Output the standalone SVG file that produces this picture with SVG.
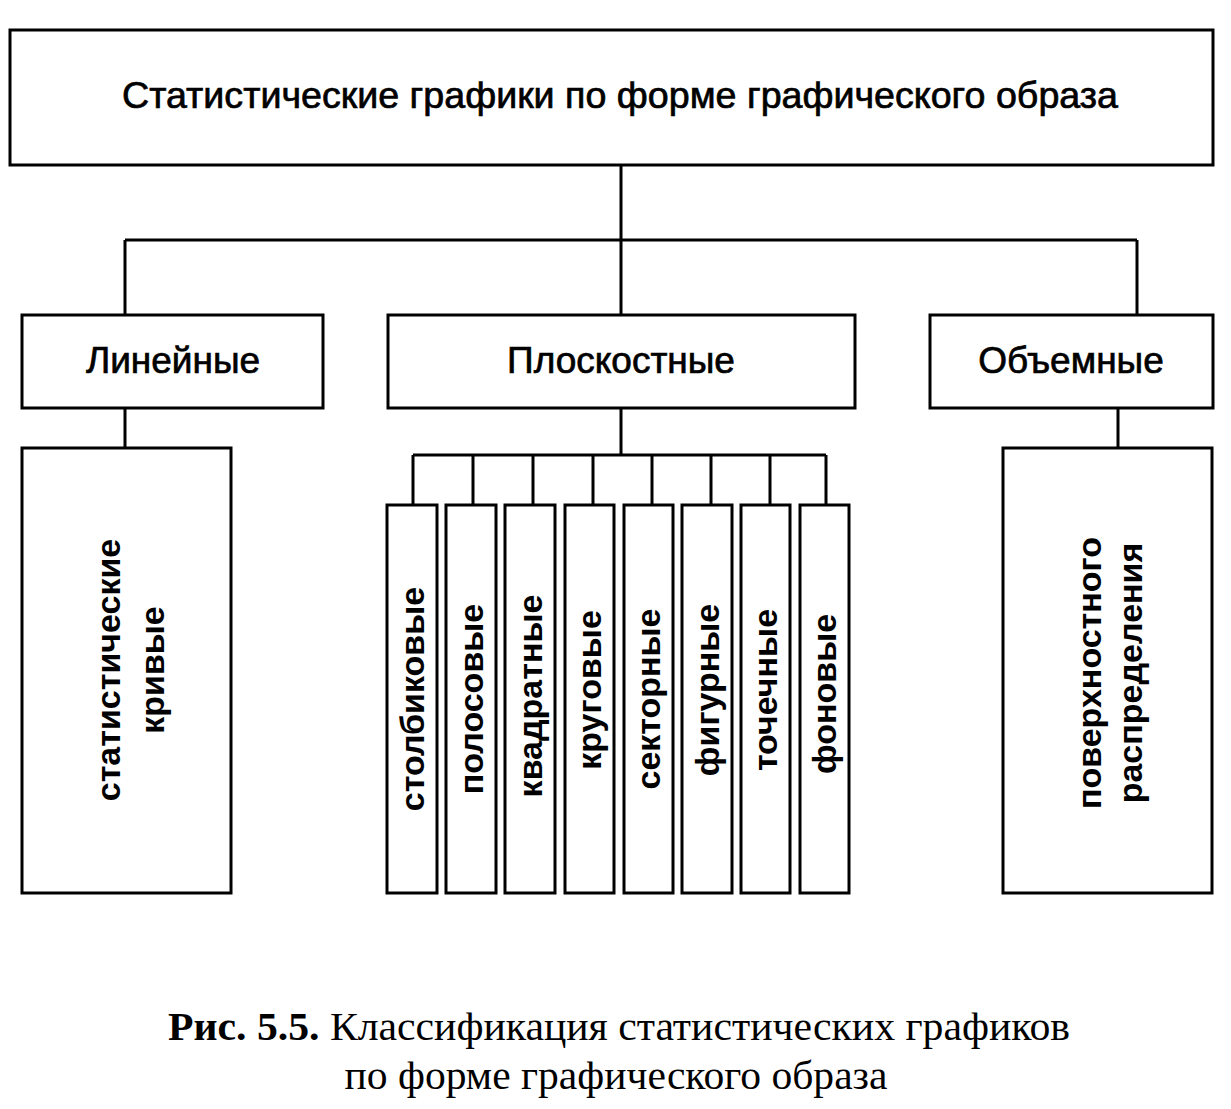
<svg xmlns="http://www.w3.org/2000/svg" width="1231" height="1109" viewBox="0 0 1231 1109">
<style>
.box{fill:#fff;stroke:#000;stroke-width:3}
.ln{fill:none;stroke:#000;stroke-width:3}
.t{font-family:"Liberation Sans",Arial,sans-serif;font-size:37px;fill:#000;text-anchor:middle;stroke:#000;stroke-width:0.7}
.v{font-family:"Liberation Sans",Arial,sans-serif;font-size:34px;font-weight:bold;fill:#000;text-anchor:middle;dominant-baseline:central}
.c{font-family:"Liberation Serif","Times New Roman",serif;font-size:40px;fill:#000;text-anchor:middle}
</style>
<rect width="1231" height="1109" fill="#fff"/>
<g id="connectors">
<path class="ln" d="M621 165V240M125 240H1137M125 240V315M621 240V315M1137 240V315"/>
<path class="ln" d="M125 408V448M1118 408V448M621 408V455M413 455H826"/>
<path class="ln" d="M413 455V505M473 455V505M533 455V505M593 455V505M652 455V505M711 455V505M770 455V505M826 455V505"/>
</g>
<g id="root"><rect class="box" x="10" y="30" width="1203" height="135"/><text class="t" x="620" y="108" font-size="36" textLength="996" lengthAdjust="spacingAndGlyphs">Статистические графики по форме графического образа</text></g>
<g id="linear"><rect class="box" x="22" y="315" width="301" height="93"/><text class="t" x="173" y="373">Линейные</text></g>
<g id="planar"><rect class="box" x="388" y="315" width="467" height="93"/><text class="t" x="621" y="373">Плоскостные</text></g>
<g id="volume"><rect class="box" x="930" y="315" width="283" height="93"/><text class="t" x="1071" y="373">Объемные</text></g>
<g id="curves"><rect class="box" x="22" y="448" width="209" height="445"/><text class="v" transform="translate(108,670) rotate(-90)">статистические</text><text class="v" transform="translate(152,670) rotate(-90)">кривые</text></g>
<g id="surface"><rect class="box" x="1003" y="448" width="209" height="445"/><text class="v" transform="translate(1089,673) rotate(-90)">поверхностного</text><text class="v" transform="translate(1130,673) rotate(-90)">распределения</text></g>
<g id="n1"><rect class="box" x="387" y="505" width="50" height="388"/><text class="v" transform="translate(412,699) rotate(-90)">столбиковые</text></g>
<g id="n2"><rect class="box" x="446" y="505" width="50" height="388"/><text class="v" transform="translate(471,699) rotate(-90)">полосовые</text></g>
<g id="n3"><rect class="box" x="505" y="505" width="50" height="388"/><text class="v" transform="translate(530,696) rotate(-90)">квадратные</text></g>
<g id="n4"><rect class="box" x="565" y="505" width="49" height="388"/><text class="v" transform="translate(589,690) rotate(-90)">круговые</text></g>
<g id="n5"><rect class="box" x="624" y="505" width="49" height="388"/><text class="v" transform="translate(648,699) rotate(-90)">секторные</text></g>
<g id="n6"><rect class="box" x="682" y="505" width="50" height="388"/><text class="v" transform="translate(707,690) rotate(-90)">фигурные</text></g>
<g id="n7"><rect class="box" x="741" y="505" width="49" height="388"/><text class="v" transform="translate(765,690) rotate(-90)">точечные</text></g>
<g id="n8"><rect class="box" x="800" y="505" width="49" height="388"/><text class="v" transform="translate(824,694) rotate(-90)">фоновые</text></g>
<g id="caption">
<text class="c" x="619" y="1040" textLength="902" lengthAdjust="spacingAndGlyphs"><tspan font-weight="bold">Рис. 5.5.</tspan> Классификация статистических графиков</text>
<text class="c" x="616" y="1089" textLength="543" lengthAdjust="spacingAndGlyphs">по форме графического образа</text>
</g>
</svg>
